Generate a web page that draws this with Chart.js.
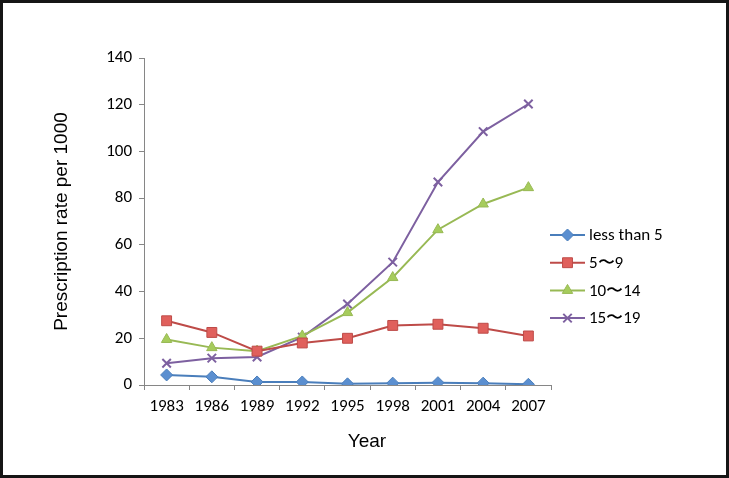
<!DOCTYPE html>
<html>
<head>
<meta charset="utf-8">
<script src="https://cdn.jsdelivr.net/npm/chart.js@4"></script>
<style>
  html, body { margin: 0; padding: 0; background: #fff; }
  #wrap {
    width: 729px; height: 478px; box-sizing: border-box;
    border: 3px solid #151515; background: #fff; position: relative;
  }
  canvas { display: block; }
</style>
</head>
<body>
<div id="wrap"><canvas id="chart" width="723" height="472"></canvas></div>
<script>
const years = ["1983", "1986", "1989", "1992", "1995", "1998", "2001", "2004", "2007"];
const under5 = [4.3, 3.5, 1.3, 1.3, 0.5, 0.8, 1.0, 0.8, 0.3];
const age5to9 = [27.5, 22.5, 14.5, 18.0, 20.0, 25.5, 26.0, 24.3, 21.0];
const age10to14 = [19.5, 16.0, 14.5, 21.0, 31.0, 46.0, 66.5, 77.5, 84.5];
const age15to19 = [9.3, 11.5, 12.0, 20.5, 34.7, 52.6, 86.9, 108.5, 120.3];
const yTicks = [0, 20, 40, 60, 80, 100, 120, 140];

const labelFont = "Carlito, Lato, 'Open Sans', sans-serif";
const titleFont = "'Liberation Sans', Arial, sans-serif";

// legend on the right (line + marker) and the "Year" title, placed like the original
const sideLegend = {
  id: "sideLegend",
  afterDraw(chart) {
    const ctx = chart.ctx;
    const x0 = 547, x1 = 582, tx = 586;
    chart.data.datasets.forEach((ds, i) => {
      const y = 232 + i * 27.7;
      ctx.save();
      ctx.strokeStyle = ds.borderColor;
      ctx.lineWidth = 2;
      ctx.beginPath();
      ctx.moveTo(x0, y);
      ctx.lineTo(x1, y);
      ctx.stroke();
      ctx.fillStyle = ds.pointBackgroundColor;
      ctx.strokeStyle = ds.pointBorderColor;
      ctx.lineWidth = ds.pointBorderWidth || 1;
      Chart.helpers.drawPoint(ctx, {
        pointStyle: ds.pointStyle,
        radius: ds.pointRadius,
        borderWidth: ds.pointBorderWidth || 1
      }, (x0 + x1) / 2, y);
      ctx.restore();
      ctx.save();
      ctx.fillStyle = "#000";
      ctx.font = "17px " + labelFont;
      ctx.textBaseline = "middle";
      ctx.fillText(ds.label, tx, y + 1);
      ctx.restore();
    });
    ctx.save();
    ctx.fillStyle = "#000";
    ctx.font = "19px " + titleFont;
    ctx.textAlign = "center";
    ctx.textBaseline = "middle";
    ctx.fillText("Year", 364, 439);
    ctx.restore();
  }
};

function series(label, data, line, fill, style, radius) {
  return {
    label: label,
    data: data,
    borderColor: line,
    borderWidth: 2,
    pointStyle: style,
    pointRadius: radius,
    pointBackgroundColor: fill,
    pointBorderColor: line,
    pointBorderWidth: style === "crossRot" ? 2 : 1,
    tension: 0
  };
}

new Chart(document.getElementById("chart"), {
  type: "line",
  data: {
    labels: years,
    datasets: [
      series("less than 5", under5, "#4a7ebb", "#5b8fd0", "rectRot", 6),
      series("5〜9", age5to9, "#be4b48", "#e0605c", "rect", 7),
      series("10〜14", age10to14, "#98b954", "#a6cc5c", "triangle", 6),
      series("15〜19", age15to19, "#7d60a0", "#7d60a0", "crossRot", 6)
    ]
  },
  options: {
    responsive: false,
    animation: false,
    layout: { padding: { left: 0, top: 55, right: 175, bottom: 0 } },
    plugins: {
      legend: { display: false },
      tooltip: { enabled: false }
    },
    scales: {
      x: {
        offset: true,
        grid: {
          offset: true,
          drawOnChartArea: false,
          drawTicks: true,
          tickLength: 5,
          color: "#868686"
        },
        border: { color: "#868686", width: 1 },
        ticks: {
          color: "#000",
          font: { family: labelFont, size: 17 },
          padding: 7,
          maxRotation: 0,
          autoSkip: false
        },
        title: { display: false },
        afterFit(scale) { scale.height = 90; }
      },
      y: {
        min: 0,
        max: 140,
        afterBuildTicks(scale) { scale.ticks = yTicks.map(v => ({ value: v })); },
        grid: {
          drawOnChartArea: false,
          drawTicks: true,
          tickLength: 5,
          color: "#868686"
        },
        border: { color: "#868686", width: 1 },
        ticks: {
          color: "#000",
          font: { family: labelFont, size: 17 },
          padding: 7
        },
        title: {
          display: true,
          text: "Prescription rate per 1000",
          color: "#000",
          font: { family: titleFont, size: 19 },
          padding: { top: 47, bottom: 0 }
        },
        afterFit(scale) { scale.width = 141; }
      }
    }
  },
  plugins: [sideLegend]
});
</script>
</body>
</html>
